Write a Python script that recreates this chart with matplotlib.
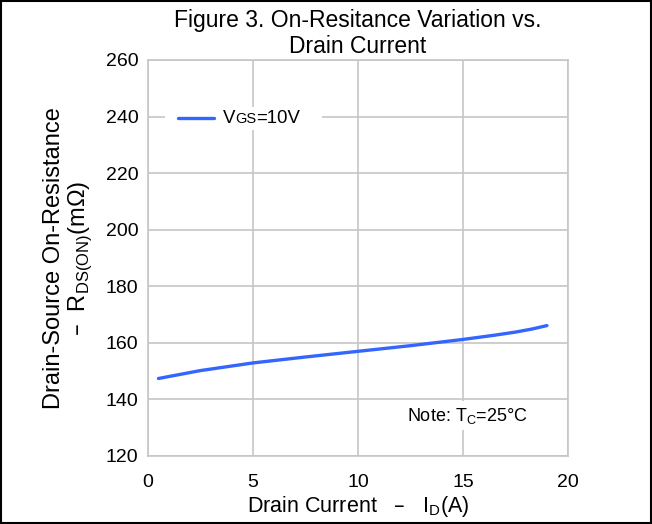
import matplotlib
matplotlib.use("Agg")
import matplotlib.pyplot as plt
from matplotlib.offsetbox import TextArea, DrawingArea, HPacker, AnchoredOffsetbox
from matplotlib.lines import Line2D
from matplotlib.patches import Rectangle

plt.rcParams['font.family'] = ['Liberation Sans', 'DejaVu Sans']

# Data
current_a = [0.5, 2.5, 5.0, 7.5, 10.0, 12.5, 15.0, 16.5, 17.5, 18.3, 19.0]
rds_on_mohm = [147.4, 150.2, 152.9, 155.0, 157.0, 159.0, 161.2, 162.7, 163.8, 164.9, 166.1]
x_ticks = [0, 5, 10, 15, 20]
y_ticks = [120, 140, 160, 180, 200, 220, 240, 260]
series_label_main = "V"
series_label_sub = "GS"
series_label_rest = "=10V"

blue = '#3366ff'
grid_c = '#c6c6c6'

fig = plt.figure(figsize=(6.52, 5.24), dpi=100)
ax = fig.add_axes([0.227, 0.1298, 0.644, 0.7557])

ax.plot(current_a, rds_on_mohm, color=blue, lw=2.4, solid_capstyle='round', zorder=3)

ax.set_xlim(0, 20)
ax.set_ylim(120, 260)
ax.set_xticks(x_ticks)
ax.set_yticks(y_ticks)
ax.grid(True, color=grid_c, lw=1.2, zorder=0)
ax.set_axisbelow(True)
for s in ax.spines.values():
    s.set_color(grid_c)
    s.set_linewidth(1.2)
ax.tick_params(length=0, labelsize=14, colors='black')
ax.tick_params(axis='x', pad=13)
ax.tick_params(axis='y', pad=7)

ax.set_title("Figure 3. On-Resitance Variation vs.\nDrain Current", fontsize=16.5, pad=4.7, linespacing=1.22)
ax.set_xlabel(r"Drain Current   –   I$_\mathregular{D}$(A)", fontsize=15.5, labelpad=2)
ax.set_ylabel("Drain-Source On-Resistance\n" + r"–  R$_\mathregular{DS(ON)}$(m$\mathregular{\Omega}$)",
              fontsize=17, labelpad=8, linespacing=1.1)

# Legend built manually (small-caps subscript style)
left_sp = DrawingArea(6.6, 1, 0, 0)
da = DrawingArea(27.4, 10, 0, 0)
da.add_artist(Line2D([1.0, 26.4], [5, 5], color=blue, lw=2.4, solid_capstyle='round'))
t1 = TextArea(series_label_main, textprops=dict(fontsize=13.4))
t2 = TextArea(series_label_sub, textprops=dict(fontsize=10.5))
t3 = TextArea(series_label_rest, textprops=dict(fontsize=13.4))
right_sp = DrawingArea(13.8, 1, 0, 0)
txt = HPacker(children=[t1, t2, t3], align='baseline', pad=0, sep=0)
inner = HPacker(children=[da, txt], align='center', pad=0, sep=5.8)
box = HPacker(children=[left_sp, inner, right_sp], align='center', pad=0, sep=0)
anch = AnchoredOffsetbox(loc='upper left', child=box, pad=0.2, frameon=True,
                         bbox_to_anchor=(0.0405, 0.881), bbox_transform=ax.transAxes, borderpad=0)
anch.patch.set_facecolor('white')
anch.patch.set_edgecolor('none')
anch.patch.set_boxstyle('square', pad=0)
ax.add_artist(anch)

ax.text(0.76, 0.102, r"Note: T$_\mathregular{C}$=25°C", transform=ax.transAxes,
        fontsize=13, ha='center', va='center',
        bbox=dict(facecolor='white', edgecolor='none', pad=3), zorder=4)

fig.patches.append(Rectangle((0.001, 0.001), 0.998, 0.998, transform=fig.transFigure,
                             fill=False, edgecolor='black', lw=1.5))

fig.savefig("out.png", dpi=100)
